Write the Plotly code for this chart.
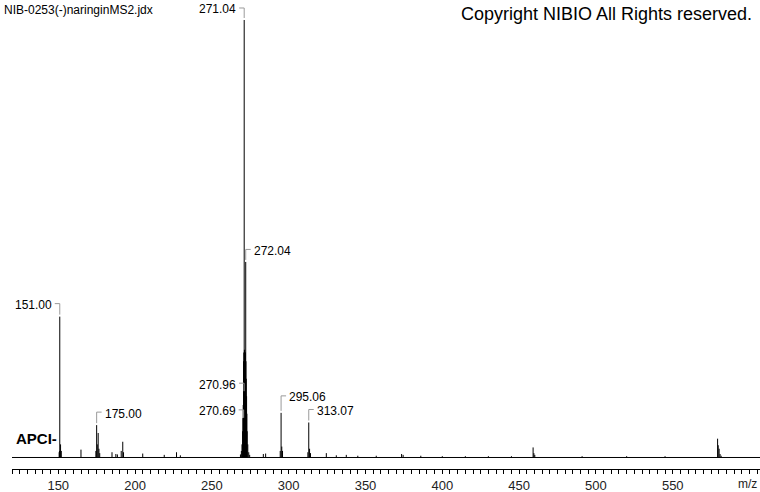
import plotly.graph_objects as go

# ---------------- data ----------------
# stick spectrum: m/z and relative intensity (%)
mz = [150.6, 150.8, 151.00, 151.5, 152.0, 164.8,
      174.5, 175.00, 175.4, 176.0, 176.5, 177.0,
      185.0, 187.5, 188.5, 191.0, 192.0, 192.5, 205.0, 219.0, 227.0, 229.5,
      268.6, 269.2, 269.6, 270.0, 270.2, 270.4, 270.6, 270.69, 270.8, 270.96, 271.04,
      271.2, 271.4, 271.6, 271.8, 272.04, 272.2, 272.4, 272.6, 272.8, 273.0, 273.4, 274.0, 274.6,
      283.5, 285.0, 294.5, 295.06, 295.5, 296.0,
      312.5, 313.07, 313.6, 314.2, 324.5, 331.0, 337.5, 345.0, 357.0,
      373.5, 374.5, 386.0, 400.0, 415.0, 430.0, 445.0,
      459.1, 459.6, 460.2, 491.0, 520.0, 545.0,
      579.2, 579.6, 580.2, 580.8, 581.5]
intensity = [1.2, 1.5, 32.2, 3.0, 1.5, 1.8,
             1.5, 7.4, 3.0, 5.6, 2.0, 1.0,
             1.2, 0.8, 0.7, 1.5, 3.6, 1.2, 0.9, 0.6, 1.2, 0.5,
             0.7, 1.5, 3.0, 6.0, 9.0, 12.0, 22.0, 8.6, 24.0, 14.7, 100.0,
             24.6, 24.6, 24.0, 24.0, 44.7, 22.0, 18.0, 14.0, 10.0, 6.0, 3.0, 1.2, 0.6,
             0.8, 0.9, 1.5, 10.2, 2.5, 1.5,
             1.2, 8.0, 2.0, 1.0, 1.0, 0.5, 0.6, 0.4, 0.4,
             0.8, 0.6, 0.4, 0.3, 0.3, 0.3, 0.3,
             2.3, 1.0, 0.6, 0.3, 0.3, 0.3,
             4.3, 2.8, 2.0, 0.8, 0.4]

# labelled peaks
label_mz = [151.00, 175.00, 270.69, 270.96, 271.04, 272.04, 295.06, 313.07]
label_int = [32.2, 7.4, 8.6, 14.7, 100.0, 44.7, 10.2, 8.0]
label_side = ["left", "right", "left", "left", "left", "right", "right", "right"]

x_ticks = [150, 200, 250, 300, 350, 400, 450, 500, 550]
mz_range = [119.9, 606.8]
int_range = [-2.63, 104.57]

title_text = "NIB-0253(-)naringinMS2.jdx"
copyright_text = "Copyright NIBIO All Rights reserved."
ion_mode = "APCI-"

# ---------------- styling / layout constants ----------------
label_offsets_px = [13, 13, 10, 10, 12, 12.5, 17, 13]
bracket_len = 5
leader_color = "#9a9a9a"
font_family = "Liberation Sans, Arial, sans-serif"

# ---------------- build figure ----------------
sx, sy = [], []
for m, h in zip(mz, intensity):
    sx += [m, m, None]
    sy += [0, h, None]

fig = go.Figure()
fig.add_trace(go.Scatter(x=mz_range, y=[0, 0], mode="lines",
                         line=dict(color="black", width=1), hoverinfo="skip"))
fig.add_trace(go.Scatter(x=sx, y=sy, mode="lines",
                         line=dict(color="black", width=1), hoverinfo="skip"))

shapes = []
annotations = []
for lab_m, lab_h, side, off in zip(label_mz, label_int, label_side, label_offsets_px):
    dx = -bracket_len if side == "left" else bracket_len
    path = f"M {dx},{off} L 0,{off} L 0,2"
    shapes.append(dict(type="path", xref="x", yref="y",
                       xsizemode="pixel", ysizemode="pixel",
                       xanchor=lab_m, yanchor=lab_h, path=path,
                       line=dict(color=leader_color, width=1)))
    annotations.append(dict(x=lab_m, y=lab_h, xref="x", yref="y",
                            text=f"{lab_m:.2f}", showarrow=False,
                            xanchor="right" if side == "left" else "left",
                            yanchor="middle",
                            xshift=(dx - 1) if side == "left" else (dx + 1),
                            yshift=off - 1.5,
                            font=dict(size=12, color="black", family=font_family)))

annotations.append(dict(x=0, y=1, xref="paper", yref="paper", text=title_text,
                        showarrow=False, xanchor="left", yanchor="middle",
                        xshift=-10, yshift=-10,
                        font=dict(size=12, color="black", family=font_family)))
annotations.append(dict(x=1, y=1, xref="paper", yref="paper", text=copyright_text,
                        showarrow=False, xanchor="right", yanchor="middle",
                        xshift=-6, yshift=-14,
                        font=dict(size=18, color="black", family=font_family)))
annotations.append(dict(x=0, y=0, xref="paper", yref="paper", text=f"<b>{ion_mode}</b>",
                        showarrow=False, xanchor="left", yanchor="middle",
                        xshift=2, yshift=469 - 438,
                        font=dict(size=15, color="black", family=font_family)))
annotations.append(dict(x=1, y=0, xref="paper", yref="paper", text="m/z",
                        showarrow=False, xanchor="right", yanchor="top",
                        xshift=-1, yshift=-6,
                        font=dict(size=12, color="#222", family=font_family)))

fig.update_layout(
    width=760, height=492,
    margin=dict(l=12, r=0, t=0, b=23),
    paper_bgcolor="white", plot_bgcolor="white",
    showlegend=False,
    shapes=shapes, annotations=annotations,
    xaxis=dict(range=mz_range, showgrid=False, zeroline=False,
               showline=True, linecolor="black", linewidth=1,
               tickmode="array", tickvals=x_ticks,
               ticks="outside", ticklen=4, tickcolor="black", tickwidth=1,
               tickfont=dict(size=13, color="#222", family=font_family),
               minor=dict(tickmode="linear", tick0=0, dtick=5, ticks="outside",
                          ticklen=4, tickcolor="black", tickwidth=1)),
    yaxis=dict(range=int_range, visible=False, showgrid=False, zeroline=False),
)

fig.write_html("out.html",
               config={"displayModeBar": False},
               post_script="document.body.style.margin='0px';document.body.style.overflow='hidden';")
